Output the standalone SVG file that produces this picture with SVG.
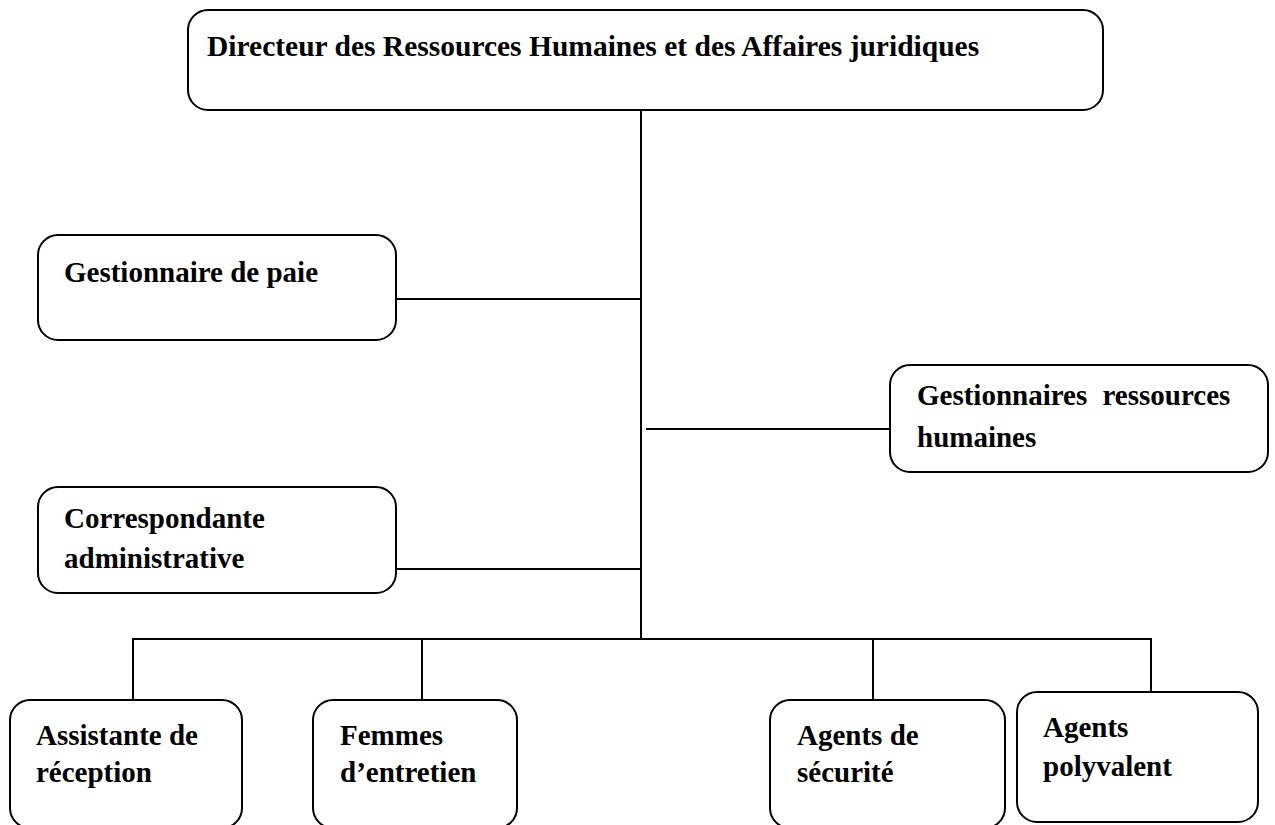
<svg xmlns="http://www.w3.org/2000/svg" width="1275" height="825" viewBox="0 0 1275 825">
<style>
.box{fill:#fff;stroke:#000;stroke-width:2}
.lbl{font-family:"Liberation Serif","Times New Roman",serif;font-weight:bold;font-size:29px;fill:#000}
.conn{stroke:#000;stroke-width:2;fill:none}
</style>
<rect width="1275" height="825" fill="#fff"/>
<g id="connectors">
<line class="conn" x1="641" y1="110" x2="641" y2="639"/>
<line class="conn" x1="396" y1="299" x2="641" y2="299"/>
<line class="conn" x1="646" y1="429" x2="890" y2="429"/>
<line class="conn" x1="396" y1="569" x2="641" y2="569"/>
<line class="conn" x1="132" y1="639" x2="1152" y2="639"/>
<line class="conn" x1="133" y1="638" x2="133" y2="700"/>
<line class="conn" x1="422" y1="638" x2="422" y2="700"/>
<line class="conn" x1="873" y1="638" x2="873" y2="700"/>
<line class="conn" x1="1151" y1="638" x2="1151" y2="692"/>
</g>
<g id="directeur">
<rect class="box" x="188" y="10" width="915" height="100" rx="20"/>
<text class="lbl" x="207" y="56" style="font-size:29.5px">Directeur des Ressources Humaines et des Affaires juridiques</text>
</g>
<g id="paie">
<rect class="box" x="38" y="235" width="358" height="105" rx="20"/>
<text class="lbl" x="64" y="282">Gestionnaire de paie</text>
</g>
<g id="grh">
<rect class="box" x="890" y="365" width="378" height="107" rx="20"/>
<text class="lbl" x="917" y="405" word-spacing="8">Gestionnaires ressources</text>
<text class="lbl" x="917" y="447">humaines</text>
</g>
<g id="correspondante">
<rect class="box" x="38" y="487" width="358" height="106" rx="20"/>
<text class="lbl" x="64" y="528">Correspondante</text>
<text class="lbl" x="64" y="568">administrative</text>
</g>
<g id="assistante">
<rect class="box" x="10" y="700" width="232" height="128" rx="20"/>
<text class="lbl" x="36" y="745">Assistante de</text>
<text class="lbl" x="36" y="782">réception</text>
</g>
<g id="femmes">
<rect class="box" x="313" y="700" width="204" height="128" rx="20"/>
<text class="lbl" x="340" y="745">Femmes</text>
<text class="lbl" x="340" y="782">d’entretien</text>
</g>
<g id="securite">
<rect class="box" x="770" y="700" width="235" height="128" rx="20"/>
<text class="lbl" x="797" y="745">Agents de</text>
<text class="lbl" x="797" y="782">sécurité</text>
</g>
<g id="polyvalent">
<rect class="box" x="1017" y="692" width="241" height="130" rx="20"/>
<text class="lbl" x="1043" y="737">Agents</text>
<text class="lbl" x="1043" y="776">polyvalent</text>
</g>
</svg>
